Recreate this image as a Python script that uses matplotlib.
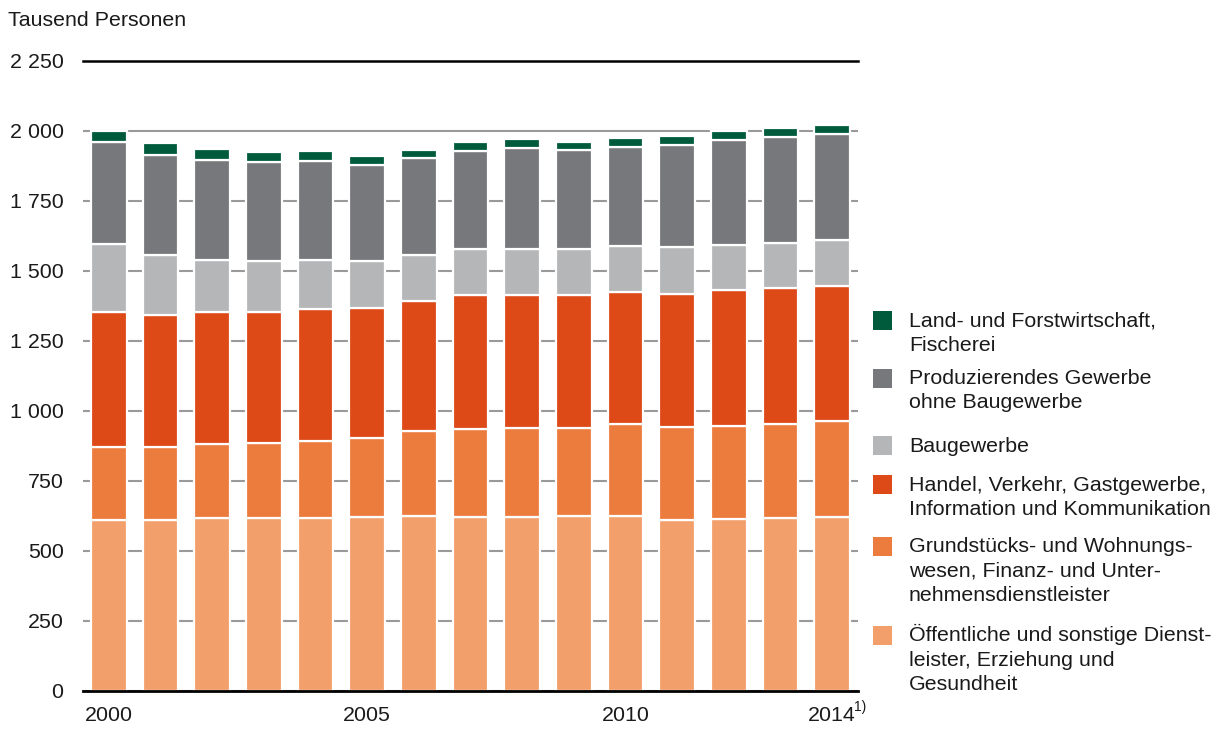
import numpy as np
import matplotlib.pyplot as plt
from matplotlib.patches import Rectangle

plt.rcParams['font.family'] = ['Liberation Sans', 'DejaVu Sans']

# Daten (Tausend Personen), von unten nach oben gestapelt
jahre = list(range(2000, 2015))
oeffentliche = [612, 610, 618, 618, 618, 622, 625, 622, 621, 624, 625, 612, 616, 619, 621]
grundstuecke = [261, 263, 265, 267, 275, 283, 304, 315, 317, 317, 330, 332, 332, 336, 345]
handel = [479, 471, 469, 468, 472, 464, 465, 476, 478, 472, 469, 475, 483, 484, 480]
baugewerbe = [245, 212, 188, 181, 176, 165, 164, 164, 161, 164, 165, 165, 163, 162, 163]
produzierendes = [363, 360, 358, 356, 351, 345, 344, 353, 364, 354, 354, 365, 374, 379, 382]
land = [40, 40, 37, 35, 36, 32, 31, 32, 32, 31, 31, 32, 32, 29, 31]

reihen = [oeffentliche, grundstuecke, handel, baugewerbe, produzierendes, land]
farben = ['#f29f6c', '#ec7b3e', '#dd4917', '#b5b6b8', '#77787b', '#005a3c']

x_ticks = [0, 5, 10, 14]
x_labels = ['2000', '2005', '2010', '2014']

# Legende (oben nach unten)
legende = [
    ('Land- und Forstwirtschaft,\nFischerei', '#005a3c'),
    ('Produzierendes Gewerbe\nohne Baugewerbe', '#77787b'),
    ('Baugewerbe', '#b5b6b8'),
    ('Handel, Verkehr, Gastgewerbe,\nInformation und Kommunikation', '#dd4917'),
    ('Grundstücks- und Wohnungs-\nwesen, Finanz- und Unter-\nnehmensdienstleister', '#ec7b3e'),
    ('Öffentliche und sonstige Dienst-\nleister, Erziehung und\nGesundheit', '#f29f6c'),
]
legende_baseline = [326.7, 384, 451.7, 490.7, 552.3, 641.3]

W, H = 1219, 731
fs = 15.4
fig = plt.figure(figsize=(W / 100, H / 100), dpi=100)
ax = fig.add_axes([83 / W, 40 / H, 775 / W, 630 / H])

x = np.arange(len(jahre))
unten = np.zeros(len(jahre))
for werte, farbe in zip(reihen, farben):
    ax.bar(x, werte, bottom=unten, width=0.69, color=farbe,
           edgecolor='white', linewidth=1.6, zorder=2)
    unten += np.array(werte)

ax.set_xlim(-0.5, len(jahre) - 0.5)
ax.set_ylim(0, 2250)
y_ticks = list(range(0, 2251, 250))
ax.set_yticks(y_ticks)
ax.set_yticklabels([f'{v:,}'.replace(',', ' ') for v in y_ticks])
ax.set_xticks(x_ticks)
ax.set_xticklabels(x_labels)
ax.tick_params(axis='y', length=0, pad=14, labelsize=fs, colors='#1a1a1a')
ax.tick_params(axis='x', length=0, pad=11, labelsize=fs, colors='#1a1a1a')

ax.yaxis.grid(True, color='#999999', linewidth=1.5, zorder=0)
ax.set_axisbelow(True)
for s in ['left', 'right']:
    ax.spines[s].set_visible(False)
ax.spines['top'].set_color('black')
ax.spines['top'].set_linewidth(1.8)
ax.spines['bottom'].set_color('black')
ax.spines['bottom'].set_linewidth(2)

fig.text(8 / W, 1 - 26.5 / H, 'Tausend Personen', fontsize=fs, va='baseline', color='#1a1a1a')
fig.text(854 / W, 1 - 711 / H, '1)', fontsize=10, va='baseline', color='#1a1a1a')

# Legende von Hand zeichnen
for (text, farbe), base in zip(legende, legende_baseline):
    cy = base - 6
    fig.add_artist(Rectangle((873 / W, 1 - (cy + 9.5) / H), 19 / W, 19 / H,
                             transform=fig.transFigure, facecolor=farbe, edgecolor='none'))
    for i, zeile in enumerate(text.split('\n')):
        fig.text(909 / W, 1 - (base + i * 24.5) / H, zeile, fontsize=fs,
                 va='baseline', color='#1a1a1a')

fig.savefig('out.png', dpi=100)
